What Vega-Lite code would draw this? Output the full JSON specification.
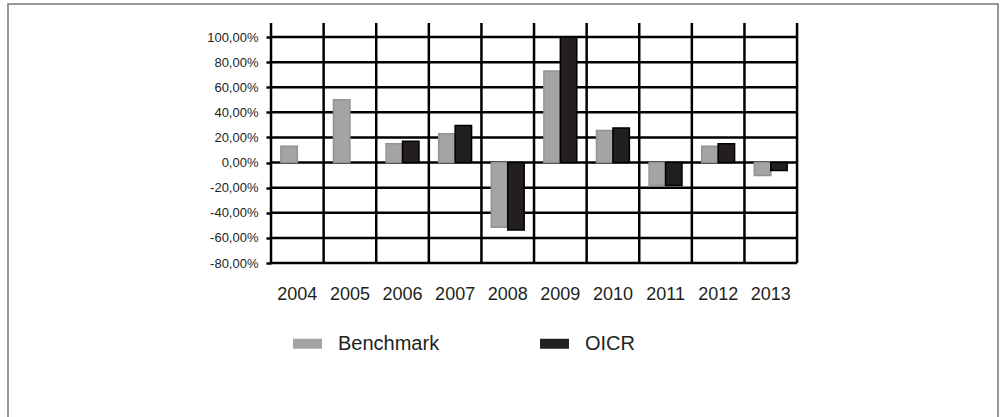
{
  "$schema": "https://vega.github.io/schema/vega-lite/v6.json",
  "width": 990,
  "height": 420,
  "autosize": {"type": "none"},
  "padding": {"left": 8, "top": 4, "right": 3, "bottom": -7},
  "background": "white",
  "config": {
    "locale": {"number": {"decimal": ",", "thousands": ".", "grouping": [3], "currency": ["", " €"], "minus": "-"}},
    "view": {"stroke": "#777777", "strokeWidth": 1.5, "fill": "white"},
    "axis": {"grid": false, "domain": false, "title": null, "labelFont": "Liberation Sans", "labelColor": "#231f20"}
  },
  "datasets": {
    "returns": [
      {"year": "2004", "series": "Benchmark", "value": 0.13},
      {"year": "2005", "series": "Benchmark", "value": 0.50},
      {"year": "2006", "series": "Benchmark", "value": 0.15},
      {"year": "2006", "series": "OICR", "value": 0.17},
      {"year": "2007", "series": "Benchmark", "value": 0.23},
      {"year": "2007", "series": "OICR", "value": 0.295},
      {"year": "2008", "series": "Benchmark", "value": -0.515},
      {"year": "2008", "series": "OICR", "value": -0.536},
      {"year": "2009", "series": "Benchmark", "value": 0.73},
      {"year": "2009", "series": "OICR", "value": 1.0},
      {"year": "2010", "series": "Benchmark", "value": 0.255},
      {"year": "2010", "series": "OICR", "value": 0.276},
      {"year": "2011", "series": "Benchmark", "value": -0.183},
      {"year": "2011", "series": "OICR", "value": -0.183},
      {"year": "2012", "series": "Benchmark", "value": 0.13},
      {"year": "2012", "series": "OICR", "value": 0.149},
      {"year": "2013", "series": "Benchmark", "value": -0.103},
      {"year": "2013", "series": "OICR", "value": -0.064}
    ],
    "years": [
      {"year": "2004"}, {"year": "2005"}, {"year": "2006"}, {"year": "2007"}, {"year": "2008"},
      {"year": "2009"}, {"year": "2010"}, {"year": "2011"}, {"year": "2012"}, {"year": "2013"}
    ],
    "levels": [
      {"level": -0.8}, {"level": -0.6}, {"level": -0.4}, {"level": -0.2}, {"level": 0},
      {"level": 0.2}, {"level": 0.4}, {"level": 0.6}, {"level": 0.8}, {"level": 1.0}
    ]
  },
  "layer": [
    {
      "data": {"name": "years"},
      "mark": {"type": "rule", "color": "#000000", "strokeWidth": 2.5},
      "encoding": {
        "x": {
          "field": "year", "type": "ordinal", "bandPosition": 0,
          "scale": {
            "domain": ["l1", "l2", "l3", "l4", "l5", "2004", "2005", "2006", "2007", "2008", "2009", "2010", "2011", "2012", "2013", "r1", "r2", "r3"],
            "paddingInner": 0, "paddingOuter": 0.41, "align": 0
          },
          "axis": {
            "orient": "bottom", "offset": -139, "ticks": false, "labelPadding": 0, "labelAngle": 0, "labelFontSize": 18,
            "bandPosition": 0.5,
            "values": ["2004", "2005", "2006", "2007", "2008", "2009", "2010", "2011", "2012", "2013"]
          }
        },
        "y": {"datum": 1.112, "type": "quantitative"},
        "y2": {"datum": -0.8}
      }
    },
    {
      "data": {"name": "levels"},
      "mark": {"type": "rule", "color": "#000000", "strokeWidth": 2.5},
      "encoding": {
        "y": {
          "field": "level", "type": "quantitative",
          "scale": {"domain": [-2.082, 1.263], "nice": false, "zero": false},
          "axis": {"orient": "left", "offset": -263, "values": [-0.8, -0.6, -0.4, -0.2, 0, 0.2, 0.4, 0.6, 0.8, 1.0], "format": ".2%", "ticks": true, "tickSize": 5, "tickColor": "#000000", "tickWidth": 2.5, "labelPadding": 8, "labelFontSize": 13}
        },
        "x": {"datum": "2004", "type": "ordinal", "bandPosition": 0},
        "x2": {"datum": "2013", "bandPosition": 1}
      }
    },
    {
      "data": {"name": "years"},
      "transform": [{"filter": "datum.year === '2013'"}],
      "mark": {"type": "rule", "color": "#000000", "strokeWidth": 2.5},
      "encoding": {
        "x": {"field": "year", "type": "ordinal", "bandPosition": 1},
        "y": {"datum": 1.112, "type": "quantitative"},
        "y2": {"datum": -0.8}
      }
    },
    {
      "data": {"name": "returns"},
      "mark": {"type": "bar", "strokeWidth": 1.5},
      "encoding": {
        "x": {"field": "year", "type": "ordinal"},
        "xOffset": {"field": "series", "type": "nominal", "scale": {"domain": ["Benchmark", "OICR"], "paddingInner": 0, "paddingOuter": 0.6}},
        "y": {"field": "value", "type": "quantitative"},
        "fill": {
          "field": "series", "type": "nominal",
          "scale": {"domain": ["Benchmark", "OICR"], "range": ["#a4a4a4", "#231f20"]},
          "legend": {
            "title": null, "orient": "none", "legendX": 285, "legendY": 325, "direction": "horizontal",
            "padding": 0, "symbolType": "M-1,-0.345L1,-0.345L1,0.345L-1,0.345Z", "symbolSize": 841,
            "symbolStrokeWidth": 0, "labelFont": "Liberation Sans", "labelFontSize": 20,
            "labelColor": "#231f20", "labelOffset": 16, "columnPadding": 100,
            "encode": {"symbols": {"update": {"fill": {"signal": "datum.value === 'OICR' ? '#231f20' : '#c4c4c4'"}, "strokeWidth": {"value": 0}}}}
          }
        },
        "stroke": {"field": "series", "type": "nominal", "scale": {"domain": ["Benchmark", "OICR"], "range": ["#929292", "#000000"]}, "legend": null}
      }
    }
  ]
}
